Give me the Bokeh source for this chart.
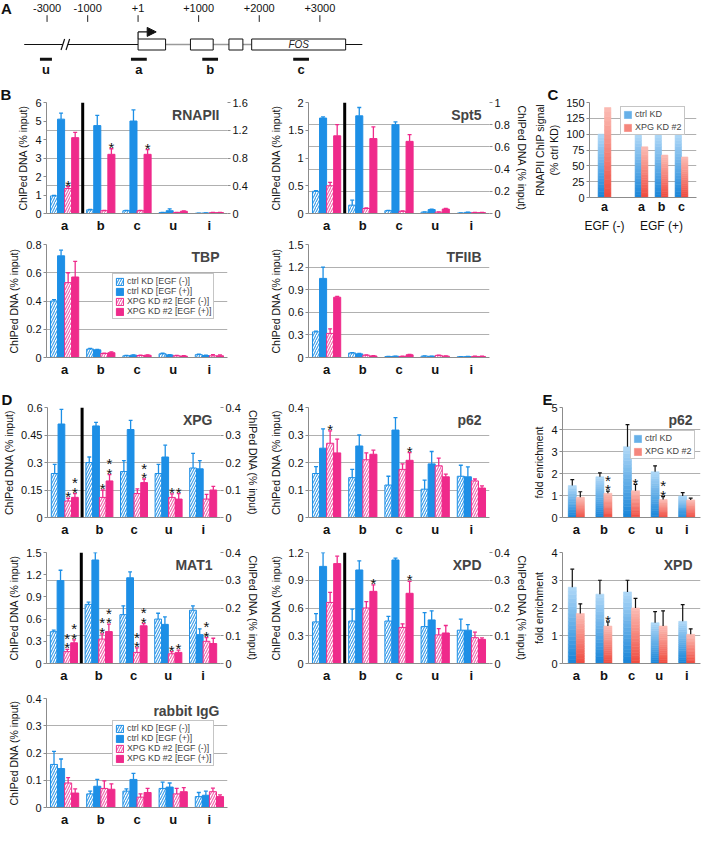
from bokeh.plotting import figure
from bokeh.models import (FactorRange, Range1d, LinearAxis, Span, Legend, LegendItem,
                          ColumnDataSource, FixedTicker, CustomJSTickFormatter, Spacer,
                          Arrow, NormalHead, Grid, Label)
from bokeh.transform import dodge
from bokeh.layouts import row, column
from bokeh.core.properties import value
from bokeh.embed import file_html
from bokeh.resources import INLINE

# ------------------------------------------------------------------ data
SITES = ["a", "b", "c", "u", "i"]
SERIES = ["ctrl KD [EGF (-)]", "ctrl KD [EGF (+)]", "XPG KD #2 [EGF (-)]", "XPG KD #2 [EGF (+)]"]

# Panel A (FOS locus schematic, bp)
A_TICK_BP = [-3000, -1000, 1, 1000, 2000, 3000]
A_TICK_LABELS = ["-3000", "-1000", "+1", "+1000", "+2000", "+3000"]
EXON_START = [1, 865, 1500, 1875]
EXON_END = [455, 1240, 1730, 3425]
AMP_NAMES = ["u", "a", "b", "c"]
AMP_START = [-3350, -140, 1060, 2560]
AMP_END = [-2760, 145, 1320, 2820]
GENE_NAME = "FOS"
LOCUS_START, LOCUS_END, BREAK_BP, TSS_ARROW_END = -4125, 3700, -2100, 300

# Panel B. Rows = series (ctrl-, ctrl+, XPG-, XPG+), columns = sites a,b,c,u,i.
# For split panels site "a" is on the left axis, b,c,u,i on the right axis.
RNAPII_MEAN = [[0.95, 0.053, 0.040, 0.013, 0.004],
               [5.10, 1.267, 1.333, 0.040, 0.008],
               [1.35, 0.040, 0.040, 0.013, 0.013],
               [4.10, 0.853, 0.853, 0.032, 0.013]]
RNAPII_ERR = [[0.03, 0.005, 0.004, 0.002, 0.001],
              [0.33, 0.147, 0.160, 0.027, 0.002],
              [0.10, 0.005, 0.005, 0.002, 0.002],
              [0.28, 0.080, 0.067, 0.005, 0.002]]
RNAPII_STARS = [("a", 2, "*"), ("b", 3, "*"), ("c", 3, "*")]

SPT5_MEAN = [[0.40, 0.075, 0.025, 0.012, 0.004],
             [1.72, 0.880, 0.800, 0.035, 0.010],
             [0.50, 0.045, 0.020, 0.012, 0.008],
             [1.40, 0.675, 0.650, 0.040, 0.008]]
SPT5_ERR = [[0.01, 0.045, 0.004, 0.002, 0.001],
            [0.02, 0.075, 0.025, 0.004, 0.002],
            [0.06, 0.005, 0.003, 0.002, 0.003],
            [0.20, 0.105, 0.060, 0.006, 0.002]]

TBP_MEAN = [[0.40, 0.060, 0.012, 0.026, 0.020],
            [0.72, 0.054, 0.016, 0.018, 0.014],
            [0.53, 0.028, 0.014, 0.012, 0.012],
            [0.57, 0.034, 0.016, 0.010, 0.012]]
TBP_ERR = [[0.01, 0.004, 0.003, 0.004, 0.003],
           [0.04, 0.004, 0.003, 0.003, 0.003],
           [0.07, 0.003, 0.003, 0.003, 0.008],
           [0.11, 0.006, 0.003, 0.003, 0.006]]

TFIIB_MEAN = [[0.34, 0.060, 0.012, 0.018, 0.010],
              [1.05, 0.048, 0.016, 0.016, 0.012],
              [0.32, 0.030, 0.014, 0.028, 0.014],
              [0.80, 0.020, 0.036, 0.018, 0.014]]
TFIIB_ERR = [[0.01, 0.006, 0.003, 0.003, 0.002],
             [0.15, 0.005, 0.003, 0.003, 0.002],
             [0.06, 0.004, 0.003, 0.004, 0.003],
             [0.01, 0.004, 0.005, 0.003, 0.003]]

# Panel C
C_GROUPS = ["EGF (-)", "EGF (+)", "EGF (+)", "EGF (+)"]
C_SITES = ["a", "a", "b", "c"]
C_CTRL = [100, 100, 100, 100]
C_XPG = [142, 80, 67, 64]

# Panel D
XPG_MEAN = [[0.24, 0.200, 0.167, 0.160, 0.180],
            [0.51, 0.333, 0.320, 0.220, 0.177],
            [0.09, 0.073, 0.087, 0.073, 0.067],
            [0.11, 0.133, 0.127, 0.067, 0.100]]
XPG_ERR = [[0.050, 0.020, 0.040, 0.033, 0.053],
           [0.080, 0.013, 0.033, 0.043, 0.030],
           [0.015, 0.027, 0.017, 0.013, 0.017],
           [0.020, 0.023, 0.013, 0.020, 0.013]]
XPG_STARS = [("a", 2, "*"), ("a", 3, "*\n*"), ("b", 2, "*"), ("b", 3, "*\n*"),
             ("c", 3, "*\n*"), ("u", 2, "*"), ("u", 3, "*")]

P62_MEAN = [[0.160, 0.145, 0.118, 0.103, 0.150],
            [0.252, 0.260, 0.318, 0.195, 0.148],
            [0.270, 0.210, 0.175, 0.188, 0.133],
            [0.235, 0.230, 0.208, 0.148, 0.107]]
P62_ERR = [[0.025, 0.030, 0.032, 0.033, 0.040],
           [0.070, 0.040, 0.045, 0.045, 0.036],
           [0.045, 0.025, 0.020, 0.028, 0.007],
           [0.050, 0.015, 0.028, 0.010, 0.008]]
P62_STARS = [("a", 2, "*"), ("c", 3, "*")]

MAT1_MEAN = [[0.43, 0.213, 0.176, 0.160, 0.192],
             [1.12, 0.373, 0.309, 0.141, 0.104],
             [0.16, 0.088, 0.040, 0.035, 0.080],
             [0.28, 0.115, 0.136, 0.040, 0.072]]
MAT1_ERR = [[0.02, 0.008, 0.032, 0.021, 0.016],
            [0.14, 0.027, 0.021, 0.027, 0.021],
            [0.03, 0.019, 0.016, 0.008, 0.013],
            [0.04, 0.027, 0.008, 0.008, 0.019]]
MAT1_STARS = [("a", 2, "*\n*"), ("a", 3, "*\n*"), ("b", 2, "*\n*"), ("b", 3, "*\n*"),
              ("c", 2, "*\n*"), ("c", 3, "*\n*"), ("u", 2, "*"), ("u", 3, "*"), ("i", 2, "*\n*")]

XPD_MEAN = [[0.45, 0.153, 0.153, 0.133, 0.120],
            [1.05, 0.337, 0.373, 0.157, 0.120],
            [0.66, 0.200, 0.130, 0.103, 0.093],
            [1.08, 0.260, 0.253, 0.110, 0.087]]
XPD_ERR = [[0.09, 0.043, 0.017, 0.050, 0.040],
           [0.15, 0.033, 0.007, 0.033, 0.020],
           [0.11, 0.023, 0.013, 0.023, 0.020],
           [0.08, 0.023, 0.043, 0.027, 0.005]]
XPD_STARS = [("b", 3, "*"), ("c", 3, "*")]

IGG_MEAN = [[0.158, 0.050, 0.060, 0.070, 0.040],
            [0.143, 0.078, 0.103, 0.075, 0.045],
            [0.090, 0.070, 0.038, 0.050, 0.058],
            [0.053, 0.067, 0.055, 0.058, 0.040]]
IGG_ERR = [[0.048, 0.010, 0.008, 0.023, 0.015],
           [0.035, 0.025, 0.022, 0.015, 0.015],
           [0.020, 0.028, 0.012, 0.020, 0.013],
           [0.015, 0.020, 0.015, 0.015, 0.006]]

# Panel E (fold enrichment)
E_P62_CTRL = [1.45, 1.85, 3.22, 2.08, 0.98]
E_P62_CTRL_ERR = [0.27, 0.18, 1.00, 0.27, 0.15]
E_P62_XPG = [0.92, 1.10, 1.22, 0.82, 0.80]
E_P62_XPG_ERR = [0.25, 0.10, 0.28, 0.13, 0.08]
E_P62_STARS = [("b", "*\n*"), ("c", "*"), ("u", "*\n*")]
E_XPD_CTRL = [2.75, 2.50, 2.58, 1.47, 1.52]
E_XPD_CTRL_ERR = [0.65, 0.50, 0.42, 0.40, 0.60]
E_XPD_XPG = [1.80, 1.35, 2.00, 1.35, 1.05]
E_XPD_XPG_ERR = [0.35, 0.15, 0.35, 0.55, 0.20]
E_XPD_STARS = [("b", "*")]

# ------------------------------------------------------------------ style
FONT = "Liberation Sans"
BLUE = "#1d8fe6"
PINK = "#ef2a8b"
BLUE_H = "#3a9ce8"
PINK_H = "#f063ac"
GRID = "#b0b0b0"
AXIS = "#8c8c8c"
OFFSETS = [-0.2925, -0.0975, 0.0975, 0.2925]
BAR_W = 0.195
CAP = 0.055
SERIES_STYLE = [
    dict(fill_color="white", line_color=BLUE, hatch_pattern="right_diagonal_line",
         hatch_color=BLUE_H, hatch_scale=5, hatch_weight=1.1),
    dict(fill_color=BLUE, line_color=BLUE),
    dict(fill_color="white", line_color=PINK, hatch_pattern="right_diagonal_line",
         hatch_color=PINK_H, hatch_scale=5, hatch_weight=1.1),
    dict(fill_color=PINK, line_color=PINK),
]
SERIES_COLOR = [BLUE, BLUE, PINK, PINK]
YLABEL = "ChIPed DNA (% input)"

COL1 = (261, 46, 34)   # width, left border, right border
COL2 = (269, 47, 41)
COL3W = 174
A_H = 82
# row key -> (figure height, top border, bottom border)
ROWS = {"B1": (153, 20, 20), "B2": (152, 9, 30), "D1": (152, 20, 20),
        "D2": (146, 13, 20), "D3": (144, 13, 18)}


def fmt():
    return CustomJSTickFormatter(code="return String(Math.round(tick*1000)/1000);")


def make_fig(width, height, bl, br, bt, bb, x_range, y_range, **kw):
    p = figure(width=width, height=height, x_range=x_range, y_range=y_range,
               min_border_left=bl, min_border_right=br, min_border_top=bt,
               min_border_bottom=bb, output_backend="svg", toolbar_location=None, **kw)
    p.outline_line_color = None
    p.background_fill_color = "white"
    p.border_fill_color = "white"
    if "frame_align" in p.properties():
        p.frame_align = False
    return p


def style_y(ax, size="11px"):
    ax.axis_line_color = AXIS
    ax.major_tick_line_color = AXIS
    ax.major_tick_out = 3
    ax.major_tick_in = 0
    ax.minor_tick_line_color = None
    ax.minor_tick_out = 0
    ax.minor_tick_in = 0
    ax.major_label_text_font = FONT
    ax.major_label_text_font_size = size
    ax.major_label_text_color = "#111111"
    ax.major_label_standoff = 2
    ax.axis_label_text_font = FONT
    ax.axis_label_text_font_size = "10.5px"
    ax.axis_label_text_font_style = "normal"
    ax.axis_label_text_color = "#111111"
    ax.axis_label_standoff = 3


def style_x(ax):
    ax.axis_line_color = AXIS
    ax.major_tick_line_color = None
    ax.major_tick_out = 0
    ax.major_tick_in = 0
    ax.minor_tick_line_color = None
    ax.minor_tick_out = 0
    ax.minor_tick_in = 0
    ax.major_label_text_font = FONT
    ax.major_label_text_font_size = "13px"
    ax.major_label_text_font_style = "bold"
    ax.major_label_text_color = "#111111"
    ax.major_label_standoff = 4
    ax.axis_label_standoff = 0


def letter(p, text, offset):
    # panel letter as the figure title, pushed left of the frame into the border
    p.title.text = text
    p.title.align = "left"
    p.title.offset = offset
    p.title.standoff = 0
    p.title.text_font = FONT
    p.title.text_font_size = "15px"
    p.title.text_font_style = "bold"
    p.title.text_color = "#111111"


def panel_title(p, text, xmax, ymax):
    p.add_layout(Label(x=xmax, y=ymax, x_offset=-8, y_offset=-4, text=text,
                       text_align="right", text_baseline="top", text_font=FONT,
                       text_font_size="14px", text_font_style="bold"))


def legend_box(p, items, loc, size="8.8px", spacing=0):
    lg = Legend(items=items, location=loc, label_text_font=FONT, label_text_font_size=size,
                label_text_line_height=1.0, glyph_width=9, glyph_height=9, label_height=9,
                spacing=spacing, padding=2, margin=0, label_standoff=3,
                border_line_color="#8c8c8c", border_line_width=1.5,
                background_fill_color="white", background_fill_alpha=1)
    p.add_layout(lg)


def bar_panel(col, rowkey, title, mean, err, lticks, rticks=None, stars=(), right_label=False,
              legend_loc=None):
    width, bl, br = col
    height, bt, bb = ROWS[rowkey]
    p = make_fig(width, height, bl, br, bt, bb, FactorRange(*SITES), Range1d(0, lticks[-1]))
    yax = p.yaxis[0]
    yax.ticker = FixedTicker(ticks=lticks)
    yax.formatter = fmt()
    style_y(yax)
    yax.axis_label = YLABEL
    style_x(p.xaxis[0])
    p.xgrid.visible = False
    split = rticks is not None
    if split:
        p.extra_y_ranges = {"right": Range1d(0, rticks[-1])}
        rax = LinearAxis(y_range_name="right", ticker=FixedTicker(ticks=rticks), formatter=fmt())
        style_y(rax)
        rax.axis_line_color = None
        if right_label:
            rax.axis_label = YLABEL
        p.add_layout(rax, "right")
        p.ygrid.visible = False
        p.add_layout(Grid(dimension=1, ticker=FixedTicker(ticks=rticks), y_range_name="right",
                          grid_line_color=GRID))
        parts = [("default", [0]), ("right", list(range(1, len(SITES))))]
    else:
        p.ygrid.grid_line_color = GRID
        parts = [("default", list(range(len(SITES))))]

    renderers = []
    for s in range(4):
        first = None
        for rname, idx in parts:
            src = ColumnDataSource(dict(site=[SITES[i] for i in idx],
                                        top=[mean[s][i] for i in idx],
                                        up=[mean[s][i] + err[s][i] for i in idx]))
            xs = dodge("site", OFFSETS[s], range=p.x_range)
            r = p.vbar(x=xs, top="top", bottom=0, width=BAR_W, source=src, line_width=1,
                       y_range_name=rname, **SERIES_STYLE[s])
            p.segment(x0=xs, y0="top", x1=xs, y1="up", source=src, line_color=SERIES_COLOR[s],
                      line_width=1.3, y_range_name=rname)
            p.segment(x0=dodge("site", OFFSETS[s] - CAP, range=p.x_range), y0="up",
                      x1=dodge("site", OFFSETS[s] + CAP, range=p.x_range), y1="up", source=src,
                      line_color=SERIES_COLOR[s], line_width=1.3, y_range_name=rname)
            if first is None:
                first = r
        renderers.append(first)

    if split:
        p.add_layout(Span(location=SITES.index("b"), dimension="height", line_color="black",
                          line_width=3))

    for site, s, txt in stars:
        i = SITES.index(site)
        rname = "right" if (split and i > 0) else "default"
        src = ColumnDataSource(dict(site=[site], y=[mean[s][i] + err[s][i]], t=[txt]))
        p.text(x=dodge("site", OFFSETS[s], range=p.x_range), y="y", text="t", source=src,
               y_range_name=rname, text_align="center", text_baseline="bottom",
               text_font=value(FONT), text_font_size="15px", text_line_height=0.55,
               text_color="#111111", y_offset=7)

    panel_title(p, title, len(SITES), lticks[-1])
    if legend_loc is not None:
        legend_box(p, [LegendItem(label=SERIES[s], renderers=[renderers[s]]) for s in range(4)],
                   legend_loc)
    return p


def mix(c1, c2, t):
    a = [int(c1[i:i + 2], 16) for i in (1, 3, 5)]
    b = [int(c2[i:i + 2], 16) for i in (1, 3, 5)]
    return "#%02x%02x%02x" % tuple(round(x + (y - x) * t) for x, y in zip(a, b))


def grad_bars(p, cats, vals, off, width, c_bot, c_top, n=20):
    mid = None
    for k in range(n):
        col = mix(c_bot, c_top, (k + 0.5) / n)
        src = ColumnDataSource(dict(cat=cats, b=[v * k / n for v in vals],
                                    t=[v * (k + 1) / n for v in vals]))
        r = p.vbar(x=dodge("cat", off, range=p.x_range), bottom="b", top="t", width=width,
                   source=src, fill_color=col, line_color=col, line_width=0.6)
        if k == n // 2:
            mid = r
    return mid


def err_bars(p, cats, vals, errs, off, color="#111111"):
    src = ColumnDataSource(dict(cat=cats, top=vals, up=[v + e for v, e in zip(vals, errs)]))
    xs = dodge("cat", off, range=p.x_range)
    p.segment(x0=xs, y0="top", x1=xs, y1="up", source=src, line_color=color, line_width=1.2)
    p.segment(x0=dodge("cat", off - 0.07, range=p.x_range), y0="up",
              x1=dodge("cat", off + 0.07, range=p.x_range), y1="up", source=src,
              line_color=color, line_width=1.2)


def e_panel(rowkey, title, ctrl, ctrl_err, xpg, xpg_err, stars, ymax, legend_loc=None):
    height, bt, bb = ROWS[rowkey]
    p = make_fig(COL3W, height, 8, 4, bt, bb, FactorRange(*SITES), Range1d(0, ymax))
    yax = p.yaxis[0]
    yax.ticker = FixedTicker(ticks=list(range(0, ymax + 1)))
    yax.formatter = fmt()
    style_y(yax)
    yax.axis_label = "fold enrichment"
    style_x(p.xaxis[0])
    p.xgrid.visible = False
    p.ygrid.grid_line_color = GRID
    rb = grad_bars(p, SITES, ctrl, -0.145, 0.29, "#1784d8", "#b0d8f7")
    rp = grad_bars(p, SITES, xpg, 0.145, 0.29, "#ef4a3e", "#fbbdb5")
    err_bars(p, SITES, ctrl, ctrl_err, -0.145)
    err_bars(p, SITES, xpg, xpg_err, 0.145)
    for site, txt in stars:
        i = SITES.index(site)
        src = ColumnDataSource(dict(cat=[site], y=[xpg[i] + xpg_err[i]], t=[txt]))
        p.text(x=dodge("cat", 0.145, range=p.x_range), y="y", text="t", source=src,
               text_align="center", text_baseline="bottom", text_font=value(FONT),
               text_font_size="15px", text_line_height=0.55, text_color="#111111", y_offset=7)
    panel_title(p, title, len(SITES), ymax)
    if legend_loc is not None:
        legend_box(p, [LegendItem(label="ctrl KD", renderers=[rb]),
                       LegendItem(label="XPG KD #2", renderers=[rp])], legend_loc,
                   size="9px", spacing=3)
    return p


# ------------------------------------------------------------------ panel A
def disp(bp):
    # schematic coordinate: upstream region compressed, break before -1000
    if bp >= 0:
        return float(bp)
    if bp >= -1000:
        return 0.83 * bp
    return -830 + (bp + 1000) * 0.335


AX0, AX1 = -2268.0, 9344.0
PXU = (AX1 - AX0) / 704.0
pa = make_fig(704, A_H, 0, 0, 0, 0, Range1d(AX0, AX1), Range1d(0, A_H),
              x_axis_location=None, y_axis_location=None)
pa.grid.visible = False

LAB_TOP, TICK_T, TICK_B = 74.2, 67.3, 60.6
LINE_Y, EX_B, EX_T, ARR_Y, AMP_Y, LAB_Y = 38, 32.5, 43.5, 50.6, 23.2, 13.4
tick_x = [disp(b) for b in A_TICK_BP]
pa.text(x=tick_x, y=[LAB_TOP] * len(tick_x), text=A_TICK_LABELS, text_font=value(FONT),
        text_font_size="11px", text_align="center", text_baseline="middle", text_color="#111111")
pa.segment(x0=tick_x, y0=[TICK_T] * len(tick_x), x1=tick_x, y1=[TICK_B] * len(tick_x),
           line_color="#222222", line_width=1)
brk = disp(BREAK_BP)
pa.segment(x0=[disp(LOCUS_START), brk + 2.5 * PXU, disp(EXON_END[-1])],
           y0=[LINE_Y] * 3, x1=[brk - 2.5 * PXU, disp(EXON_START[0]), disp(LOCUS_END)],
           y1=[LINE_Y] * 3, line_color="#111111", line_width=1.2)
pa.segment(x0=[disp(e) for e in EXON_END[:-1]], y0=[LINE_Y] * 3,
           x1=[disp(s) for s in EXON_START[1:]], y1=[LINE_Y] * 3,
           line_color="#9a9a9a", line_width=1.6)
for c in (brk - 2.5 * PXU, brk + 2.5 * PXU):
    pa.segment(x0=[c - 1.8 * PXU], y0=[LINE_Y - 5.5], x1=[c + 1.8 * PXU], y1=[LINE_Y + 5.5],
               line_color="#111111", line_width=1.2)
pa.quad(left=[disp(s) for s in EXON_START], right=[disp(e) for e in EXON_END],
        bottom=EX_B, top=EX_T, fill_color="white", line_color="#111111", line_width=1)
pa.text(x=[(disp(EXON_START[-1]) + disp(EXON_END[-1])) / 2], y=[LINE_Y], text=[GENE_NAME],
        text_font=value(FONT), text_font_size="10px", text_font_style="italic",
        text_align="center", text_baseline="middle", text_color="#222222")
pa.segment(x0=[disp(1)], y0=[EX_T], x1=[disp(1)], y1=[ARR_Y], line_color="#111111",
           line_width=1.2)
pa.add_layout(Arrow(x_start=disp(1), y_start=ARR_Y, x_end=disp(TSS_ARROW_END), y_end=ARR_Y,
                    line_color="#111111", line_width=1.2,
                    end=NormalHead(size=9, fill_color="#111111", line_color="#111111")))
pa.segment(x0=[disp(s) for s in AMP_START], y0=[AMP_Y] * 4, x1=[disp(e) for e in AMP_END],
           y1=[AMP_Y] * 4, line_color="#111111", line_width=3)
pa.text(x=[(disp(s) + disp(e)) / 2 for s, e in zip(AMP_START, AMP_END)], y=[LAB_Y] * 4,
        text=AMP_NAMES, text_font=value(FONT), text_font_size="13px", text_font_style="bold",
        text_align="center", text_baseline="middle", text_color="#111111")
pa.text(x=[AX0 + 0.5 * PXU], y=[LAB_TOP], text=["A"], text_font=value(FONT),
        text_font_size="15px", text_font_style="bold", text_align="left",
        text_baseline="middle", text_color="#111111")

# ------------------------------------------------------------------ panels B
p_rnapii = bar_panel(COL1, "B1", "RNAPII", RNAPII_MEAN, RNAPII_ERR, [0, 1, 2, 3, 4, 5, 6],
                     [0, 0.4, 0.8, 1.2, 1.6], RNAPII_STARS)
letter(p_rnapii, "B", -46)
p_spt5 = bar_panel(COL2, "B1", "Spt5", SPT5_MEAN, SPT5_ERR, [0, 0.5, 1, 1.5, 2],
                   [0, 0.2, 0.4, 0.6, 0.8, 1], right_label=True)

# panel C
C_CATS = list(zip(C_GROUPS, C_SITES))
p_c = make_fig(COL3W, ROWS["B1"][0], 55, 8, ROWS["B1"][1], 38,
               FactorRange(*C_CATS, factor_padding=0, group_padding=0.85, range_padding=0.25,
                           range_padding_units="absolute"), Range1d(0, 150))
yax = p_c.yaxis[0]
yax.ticker = FixedTicker(ticks=[0, 25, 50, 75, 100, 125, 150])
yax.formatter = fmt()
style_y(yax)
yax.axis_label = "RNAPII ChIP signal\n(% ctrl KD)"
xax = p_c.xaxis[0]
style_x(xax)
xax.major_label_standoff = 2
xax.major_label_text_font_size = "12.5px"
xax.group_text_font = FONT
xax.group_text_font_size = "12px"
xax.group_text_font_style = "normal"
xax.group_text_color = "#111111"
xax.separator_line_color = None
p_c.xgrid.visible = False
p_c.ygrid.grid_line_color = GRID
rb = grad_bars(p_c, C_CATS, C_CTRL, -0.16, 0.32, "#1784d8", "#b0d8f7")
rp = grad_bars(p_c, C_CATS, C_XPG, 0.16, 0.32, "#ef4a3e", "#fbbdb5")
legend_box(p_c, [LegendItem(label="ctrl KD", renderers=[rb]),
                 LegendItem(label="XPG KD #2", renderers=[rp])], (31, 62), size="9px", spacing=3)
letter(p_c, "C", -42)

p_tbp = bar_panel(COL1, "B2", "TBP", TBP_MEAN, TBP_ERR, [0, 0.2, 0.4, 0.6, 0.8],
                  legend_loc=(66, 38))
p_tfiib = bar_panel(COL2, "B2", "TFIIB", TFIIB_MEAN, TFIIB_ERR, [0, 0.3, 0.6, 0.9, 1.2, 1.5])

# ------------------------------------------------------------------ panels D
p_xpg = bar_panel(COL1, "D1", "XPG", XPG_MEAN, XPG_ERR, [0, 0.15, 0.3, 0.45, 0.6],
                  [0, 0.1, 0.2, 0.3, 0.4], XPG_STARS, right_label=True)
letter(p_xpg, "D", -46)
p_p62 = bar_panel(COL2, "D1", "p62", P62_MEAN, P62_ERR, [0, 0.1, 0.2, 0.3, 0.4],
                  stars=P62_STARS)
p_mat1 = bar_panel(COL1, "D2", "MAT1", MAT1_MEAN, MAT1_ERR, [0, 0.3, 0.6, 0.9, 1.2, 1.5],
                   [0, 0.1, 0.2, 0.3, 0.4], MAT1_STARS, right_label=True)
p_xpd = bar_panel(COL2, "D2", "XPD", XPD_MEAN, XPD_ERR, [0, 0.3, 0.6, 0.9, 1.2],
                  [0, 0.1, 0.2, 0.3, 0.4], XPD_STARS, right_label=True)
p_igg = bar_panel(COL1, "D3", "rabbit IgG", IGG_MEAN, IGG_ERR, [0, 0.1, 0.2, 0.3, 0.4],
                  legend_loc=(66, 41))

# ------------------------------------------------------------------ panels E
p_ep62 = e_panel("D1", "p62", E_P62_CTRL, E_P62_CTRL_ERR, E_P62_XPG, E_P62_XPG_ERR,
                 E_P62_STARS, 5, legend_loc=(68, 58))
letter(p_ep62, "E", -20)
p_expd = e_panel("D2", "XPD", E_XPD_CTRL, E_XPD_CTRL_ERR, E_XPD_XPG, E_XPD_XPG_ERR,
                 E_XPD_STARS, 4)

layout = column(
    pa,
    row(p_rnapii, p_spt5, p_c),
    row(p_tbp, p_tfiib, Spacer(width=COL3W, height=ROWS["B2"][0])),
    row(p_xpg, p_p62, p_ep62),
    row(p_mat1, p_xpd, p_expd),
    row(p_igg, Spacer(width=COL2[0] + COL3W, height=ROWS["D3"][0])),
)

open("out.html", "w").write(file_html(layout, INLINE))
